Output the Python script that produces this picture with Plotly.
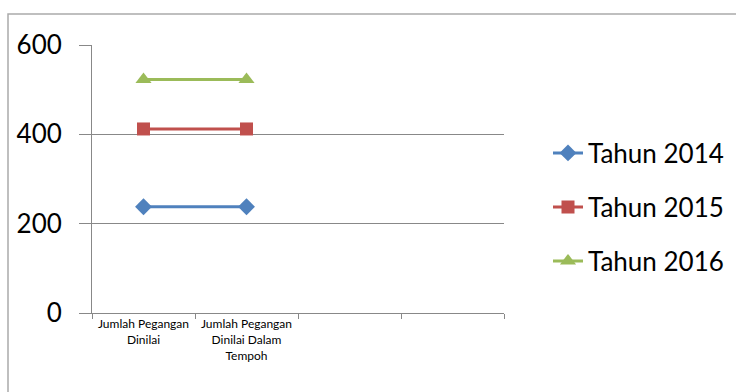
import plotly.graph_objects as go

categories = ["Jumlah Pegangan<br>Dinilai", "Jumlah Pegangan<br>Dinilai Dalam<br>Tempoh", " ", "  "]
series_names = ["Tahun 2014", "Tahun 2015", "Tahun 2016"]
values_2014 = [238, 238]
values_2015 = [412, 412]
values_2016 = [523, 523]
y_ticks = [0, 200, 400, 600]

colors = ["#4F81BD", "#C0504D", "#9BBB59"]
symbols = ["diamond", "square", "triangle-up"]
sizes = [13, 13, 14]
all_values = [values_2014, values_2015, values_2016]

W, H = 736, 392
L, R, T, B = 92, 232, 45, 79
pw, ph = W - L - R, H - T - B

def px_x(x):
    return (x - L) / pw

def px_y(y):
    return (H - B - y) / ph

fig = go.Figure()
legend_ys = [153, 207, 261]
legend_keys = ["legend", "legend2", "legend3"]
for i, (name, vals) in enumerate(zip(series_names, all_values)):
    fig.add_trace(go.Scatter(
        x=categories[:len(vals)], y=vals, name=name, mode="lines+markers",
        line=dict(color=colors[i], width=3),
        marker=dict(symbol=symbols[i], size=sizes[i], color=colors[i]),
        legend=legend_keys[i],
    ))

legend_common = dict(font=dict(family="Lato", size=26, color="#000000"),
                     bgcolor="rgba(0,0,0,0)", xanchor="left", yanchor="middle",
                     itemwidth=30)
layout_legends = {}
for i, k in enumerate(legend_keys):
    layout_legends[k] = dict(legend_common, x=px_x(548), y=px_y(legend_ys[i]))

fig.update_layout(
    width=W, height=H,
    margin=dict(l=L, r=R, t=T, b=B, autoexpand=False),
    paper_bgcolor="white", plot_bgcolor="white",
    showlegend=True,
    xaxis=dict(type="category", categoryorder="array", categoryarray=categories,
               range=[-0.5, 3.5], tickson="boundaries", ticks="outside", ticklen=5,
               tickcolor="#888888", showgrid=False, showline=True, linecolor="#888888",
               linewidth=1, tickangle=0, zeroline=False, automargin=False,
               tickfont=dict(family="Lato", size=12, color="#000000")),
    yaxis=dict(range=[0, 600], tickvals=y_ticks, ticks="outside", ticklen=12,
               tickcolor="#888888", showgrid=True, gridcolor="#888888", gridwidth=1,
               showline=True, linecolor="#888888", linewidth=1, zeroline=False,
               ticklabelstandoff=12, automargin=False,
               tickfont=dict(family="Lato", size=26, color="#000000")),
    shapes=[dict(type="rect", xref="paper", yref="paper",
                 x0=px_x(8), x1=px_x(760), y0=px_y(420), y1=px_y(14),
                 line=dict(color="#AAAAAA", width=1.5), fillcolor="rgba(0,0,0,0)",
                 layer="below")],
    **layout_legends,
)

fig.write_html("out.html")
